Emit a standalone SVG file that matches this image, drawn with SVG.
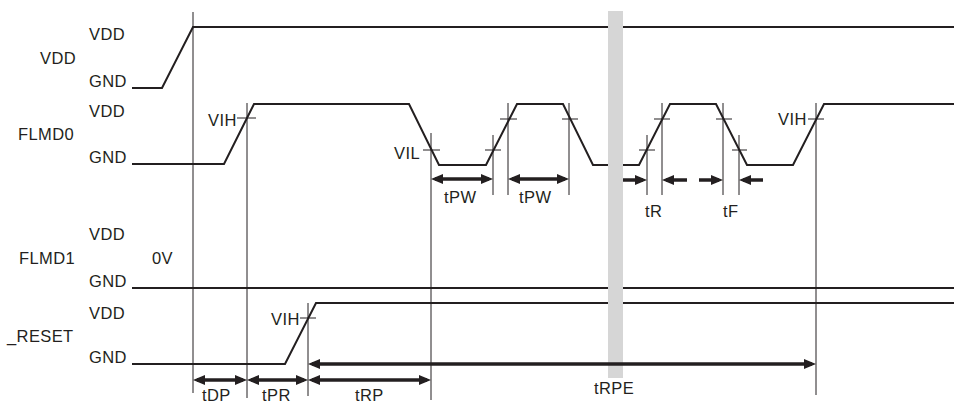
<svg xmlns="http://www.w3.org/2000/svg" width="954" height="403" viewBox="0 0 954 403">
<style>
text{font-family:"Liberation Sans",Arial,sans-serif;font-size:16.5px;letter-spacing:0.4px;fill:#231f20}
.sig{fill:none;stroke:#231f20;stroke-width:2;stroke-linejoin:miter}
.vl{fill:none;stroke:#231f20;stroke-width:1}
.arr{fill:none;stroke:#231f20;stroke-width:3.5}
</style>
<defs>
<marker id="ah" viewBox="0 0 12 10" refX="8" refY="5" markerWidth="12" markerHeight="10" markerUnits="userSpaceOnUse" orient="auto-start-reverse">
<path d="M0,0 L12,5 L0,10 z" fill="#231f20"/>
</marker>
</defs>
<rect width="954" height="403" fill="#fff"/>

<g id="signals">
<g id="vdd">
<text x="89" y="40">VDD</text>
<text x="40" y="64">VDD</text>
<text x="89" y="87">GND</text>
<path class="sig" d="M132,88 H162 L193,27 H954"/>
</g>
<g id="flmd0">
<text x="89" y="117">VDD</text>
<text x="18" y="140">FLMD0</text>
<text x="89" y="163">GND</text>
<path class="sig" d="M132,164 H224 L254,104 H409 L439,165 H486 L517,104 H563 L593,165 H616"/>
<path class="sig" d="M616,165 H639 L670,104 H716 L747,165 H793 L824,104 H954"/>
<text x="208" y="126">VIH</text>
<text x="394" y="159">VIL</text>
<text x="778" y="125">VIH</text>
</g>
<g id="flmd1">
<text x="89" y="240">VDD</text>
<text x="19" y="264">FLMD1</text>
<text x="152" y="264">0V</text>
<text x="89" y="287">GND</text>
<path class="sig" d="M132,288 H954"/>
</g>
<g id="reset">
<text x="89" y="319">VDD</text>
<text x="7" y="342">_RESET</text>
<text x="89" y="363">GND</text>
<path class="sig" d="M132,364 H285 L316,303 H954"/>
<text x="271" y="325">VIH</text>
</g>
</g>

<g id="guides">
<path class="vl" d="M193,12 V393 M247,103 V398 M431,133 V400 M493,135 V195 M508,103 V195 M569,103 V195 M647,135 V195 M662,103 V195 M723,103 V195 M739,135 V195 M816,103 V395 M308,303 V396"/>
<path class="vl" d="M237,118 H256 M423,150 H440 M485,150 H501 M500,119 H517 M562,119 H578 M639,150 H655 M654,119 H670 M716,119 H732 M732,150 H747 M808,119 H824 M300,318 H316"/>
</g>

<g id="break">
<rect x="608" y="11" width="15" height="367" fill="#d6d6d6"/>
</g>

<g id="connectors">
<line class="arr" x1="435" y1="179" x2="489" y2="179" marker-start="url(#ah)" marker-end="url(#ah)"/>
<line class="arr" x1="512" y1="179" x2="565" y2="179" marker-start="url(#ah)" marker-end="url(#ah)"/>
<line class="arr" x1="623" y1="180" x2="643" y2="180" marker-end="url(#ah)"/>
<line class="arr" x1="687" y1="180" x2="666" y2="180" marker-end="url(#ah)"/>
<line class="arr" x1="699" y1="180" x2="719" y2="180" marker-end="url(#ah)"/>
<line class="arr" x1="763" y1="180" x2="743" y2="180" marker-end="url(#ah)"/>
<line class="arr" x1="197" y1="380" x2="243" y2="380" marker-start="url(#ah)" marker-end="url(#ah)"/>
<line class="arr" x1="251" y1="380" x2="304" y2="380" marker-start="url(#ah)" marker-end="url(#ah)"/>
<line class="arr" x1="312" y1="380" x2="427" y2="380" marker-start="url(#ah)" marker-end="url(#ah)"/>
<line class="arr" x1="312" y1="364" x2="812" y2="364" marker-start="url(#ah)" marker-end="url(#ah)"/>
</g>

<g id="labels">
<text x="444" y="203">tPW</text>
<text x="519" y="203">tPW</text>
<text x="645" y="217">tR</text>
<text x="723" y="217">tF</text>
<text x="202" y="401">tDP</text>
<text x="262" y="401">tPR</text>
<text x="355" y="401">tRP</text>
<text x="594" y="394">tRPE</text>
</g>
</svg>
